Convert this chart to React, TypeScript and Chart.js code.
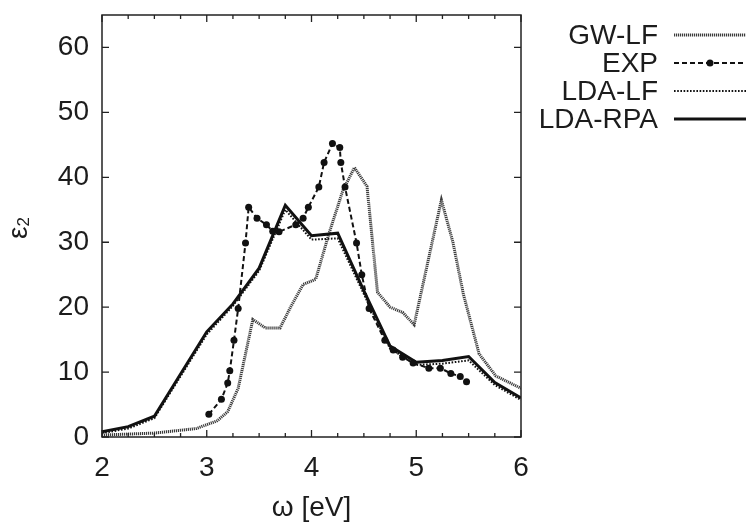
import React, { useEffect, useRef } from "react";
import { Chart, registerables } from "chart.js";

Chart.register(...registerables);

// ---- data ----
const gwX = [2.0, 2.5, 2.9, 3.1, 3.2, 3.3, 3.44, 3.56, 3.7, 3.8, 3.92, 4.04, 4.17, 4.3, 4.41, 4.53, 4.63, 4.75, 4.87, 4.98, 5.24, 5.35, 5.45, 5.6, 5.76, 6.0];
const gwY = [0.3, 0.6, 1.3, 2.5, 3.9, 7.5, 18.1, 16.8, 16.8, 20.0, 23.5, 24.3, 31.5, 38.0, 41.5, 38.6, 22.3, 20.0, 19.2, 17.3, 36.5, 30.0, 22.0, 12.8, 9.4, 7.5];

const expX = [3.02, 3.14, 3.2, 3.22, 3.26, 3.3, 3.37, 3.4, 3.48, 3.57, 3.63, 3.69, 3.85, 3.92, 3.97, 4.07, 4.12, 4.2, 4.27, 4.28, 4.32, 4.43, 4.48, 4.55, 4.7, 4.78, 4.87, 4.97, 5.12, 5.23, 5.33, 5.42, 5.48];
const expY = [3.5, 5.8, 8.3, 10.2, 14.9, 19.8, 29.9, 35.4, 33.7, 32.7, 31.7, 31.6, 32.7, 33.7, 35.4, 38.5, 42.3, 45.2, 44.6, 42.3, 38.5, 29.9, 25.0, 19.8, 14.9, 13.4, 12.3, 11.4, 10.6, 10.6, 9.8, 9.3, 8.5];

const ldaX = [2.0, 2.25, 2.5, 3.0, 3.25, 3.5, 3.75, 4.0, 4.25, 4.5, 4.75, 5.0, 5.25, 5.5, 5.75, 6.0];
const ldaLfY = [0.6, 1.3, 2.9, 15.8, 20.2, 25.6, 35.0, 30.4, 30.6, 22.0, 13.6, 11.1, 11.3, 11.8, 8.0, 5.7];
const ldaRpaY = [0.8, 1.6, 3.2, 16.2, 20.5, 26.0, 35.7, 31.0, 31.4, 22.5, 14.0, 11.5, 11.8, 12.4, 8.4, 6.0];

const seriesNames = ["GW-LF", "EXP", "LDA-LF", "LDA-RPA"];
const xTickValues = [2, 3, 4, 5, 6];
const xMinorStep = 0.25;
const yTickValues = [0, 10, 20, 30, 40, 50, 60];
const xTitle = "ω [eV]";
const yTitleMain = "ε";
const yTitleSub = "2";

const FONT = '"Liberation Sans", Arial, Helvetica, sans-serif';
const INK = "#1c1c1c";

type Style = { color: string; width: number; dash: number[]; marker: boolean };
const styles: Style[] = [
  { color: "#3c3c3c", width: 3, dash: [1.2, 0.8], marker: false },
  { color: "#111", width: 2, dash: [5, 3], marker: true },
  { color: "#111", width: 2, dash: [1.6, 1.6], marker: false },
  { color: "#111", width: 3, dash: [], marker: false },
];

const zip = (xs: number[], ys: number[]) => xs.map((x, i) => ({ x, y: ys[i] }));

export default function App() {
  const ref = useRef<HTMLCanvasElement>(null);

  useEffect(() => {
    document.body.style.margin = "0";
    const canvas = ref.current;
    if (!canvas) return;

    const framePlugin = {
      id: "framePlugin",
      afterDatasetsDraw(chart: any) {
        const { ctx, chartArea: a, scales } = chart;
        const xs = scales.x;
        const ys = scales.y;
        ctx.save();
        ctx.strokeStyle = "#222";
        ctx.lineWidth = 1.5;
        ctx.setLineDash([]);
        ctx.strokeRect(a.left, a.top, a.right - a.left, a.bottom - a.top);
        ctx.lineWidth = 1.3;
        ctx.beginPath();
        const major = 7;
        const minor = 4;
        for (let v = xs.min; v <= xs.max + 1e-9; v += xMinorStep) {
          const px = xs.getPixelForValue(v);
          const isMajor = xTickValues.some((t) => Math.abs(t - v) < 1e-6);
          const len = isMajor ? major : minor;
          ctx.moveTo(px, a.bottom);
          ctx.lineTo(px, a.bottom - len);
          ctx.moveTo(px, a.top);
          ctx.lineTo(px, a.top + len);
        }
        for (const v of yTickValues) {
          const py = ys.getPixelForValue(v);
          ctx.moveTo(a.left, py);
          ctx.lineTo(a.left + major, py);
          ctx.moveTo(a.right, py);
          ctx.lineTo(a.right - major, py);
        }
        ctx.stroke();
        ctx.restore();
      },
      afterDraw(chart: any) {
        const { ctx, chartArea: a } = chart;
        ctx.save();
        // y title (rotated, with subscript)
        const cy = (a.top + a.bottom) / 2 + 2;
        ctx.translate(27, cy);
        ctx.rotate(-Math.PI / 2);
        ctx.fillStyle = INK;
        ctx.textBaseline = "alphabetic";
        ctx.font = `28px ${FONT}`;
        const w1 = ctx.measureText(yTitleMain).width;
        ctx.font = `17px ${FONT}`;
        const w2 = ctx.measureText(yTitleSub).width;
        const start = -(w1 + w2) / 2;
        ctx.font = `28px ${FONT}`;
        ctx.fillText(yTitleMain, start, 0);
        ctx.font = `17px ${FONT}`;
        ctx.fillText(yTitleSub, start + w1, 2);
        ctx.restore();

        // legend
        ctx.save();
        const textRight = 658;
        const x0 = 674;
        const x1 = 746;
        const rowY0 = 35;
        const rowGap = 28;
        seriesNames.forEach((name, i) => {
          const st = styles[i];
          const y = rowY0 + i * rowGap;
          ctx.font = `28px ${FONT}`;
          ctx.fillStyle = INK;
          ctx.textAlign = "right";
          ctx.textBaseline = "middle";
          ctx.fillText(name, textRight, y + 1);
          ctx.beginPath();
          ctx.strokeStyle = st.color;
          ctx.lineWidth = st.width;
          ctx.setLineDash(st.dash);
          ctx.moveTo(x0, y);
          ctx.lineTo(x1, y);
          ctx.stroke();
          ctx.setLineDash([]);
          if (st.marker) {
            ctx.beginPath();
            ctx.fillStyle = st.color;
            ctx.arc((x0 + x1) / 2, y, 3.5, 0, Math.PI * 2);
            ctx.fill();
          }
        });
        ctx.restore();
      },
    };

    const datasets = [
      { x: gwX, y: gwY },
      { x: expX, y: expY },
      { x: ldaX, y: ldaLfY },
      { x: ldaX, y: ldaRpaY },
    ].map((s, i) => {
      const st = styles[i];
      return {
        label: seriesNames[i],
        data: zip(s.x, s.y),
        borderColor: st.color,
        backgroundColor: st.color,
        borderWidth: st.width,
        borderDash: st.dash,
        pointRadius: st.marker ? 3.5 : 0,
        pointBorderWidth: 0,
        pointBackgroundColor: st.color,
        pointHoverRadius: 0,
        tension: 0,
        fill: false,
        order: [3, 0, 2, 1][i],
      };
    });

    const tickFont = { family: FONT, size: 28 };

    const chart = new Chart(canvas, {
      type: "line",
      data: { datasets },
      plugins: [framePlugin],
      options: {
        responsive: false,
        animation: false,
        events: [],
        layout: { padding: { left: 0, right: 225, top: 15, bottom: 0 } },
        plugins: { legend: { display: false }, tooltip: { enabled: false } },
        scales: {
          x: {
            type: "linear",
            min: 2,
            max: 6,
            afterBuildTicks: (s: any) => {
              s.ticks = xTickValues.map((v) => ({ value: v }));
            },
            afterFit: (s: any) => {
              s.height = 88;
              s.paddingLeft = 0;
              s.paddingRight = 0;
            },
            grid: { display: false, drawTicks: false },
            border: { display: false },
            ticks: { padding: 14, font: tickFont, color: INK, maxRotation: 0, autoSkip: false },
            title: {
              display: true,
              text: xTitle,
              font: tickFont,
              color: INK,
              padding: { top: 0, bottom: 0 },
            },
          },
          y: {
            type: "linear",
            min: 0,
            max: 65,
            afterBuildTicks: (s: any) => {
              s.ticks = yTickValues.map((v) => ({ value: v }));
            },
            afterFit: (s: any) => {
              s.width = 102;
              s.paddingTop = 0;
              s.paddingBottom = 0;
            },
            grid: { display: false, drawTicks: false },
            border: { display: false },
            ticks: { padding: 13, font: tickFont, color: INK, autoSkip: false },
            title: { display: false },
          },
        },
      },
    });

    return () => chart.destroy();
  }, []);

  return (
    <div style={{ width: 746, height: 525 }}>
      <canvas ref={ref} width={746} height={525} style={{ display: "block" }} />
    </div>
  );
}
